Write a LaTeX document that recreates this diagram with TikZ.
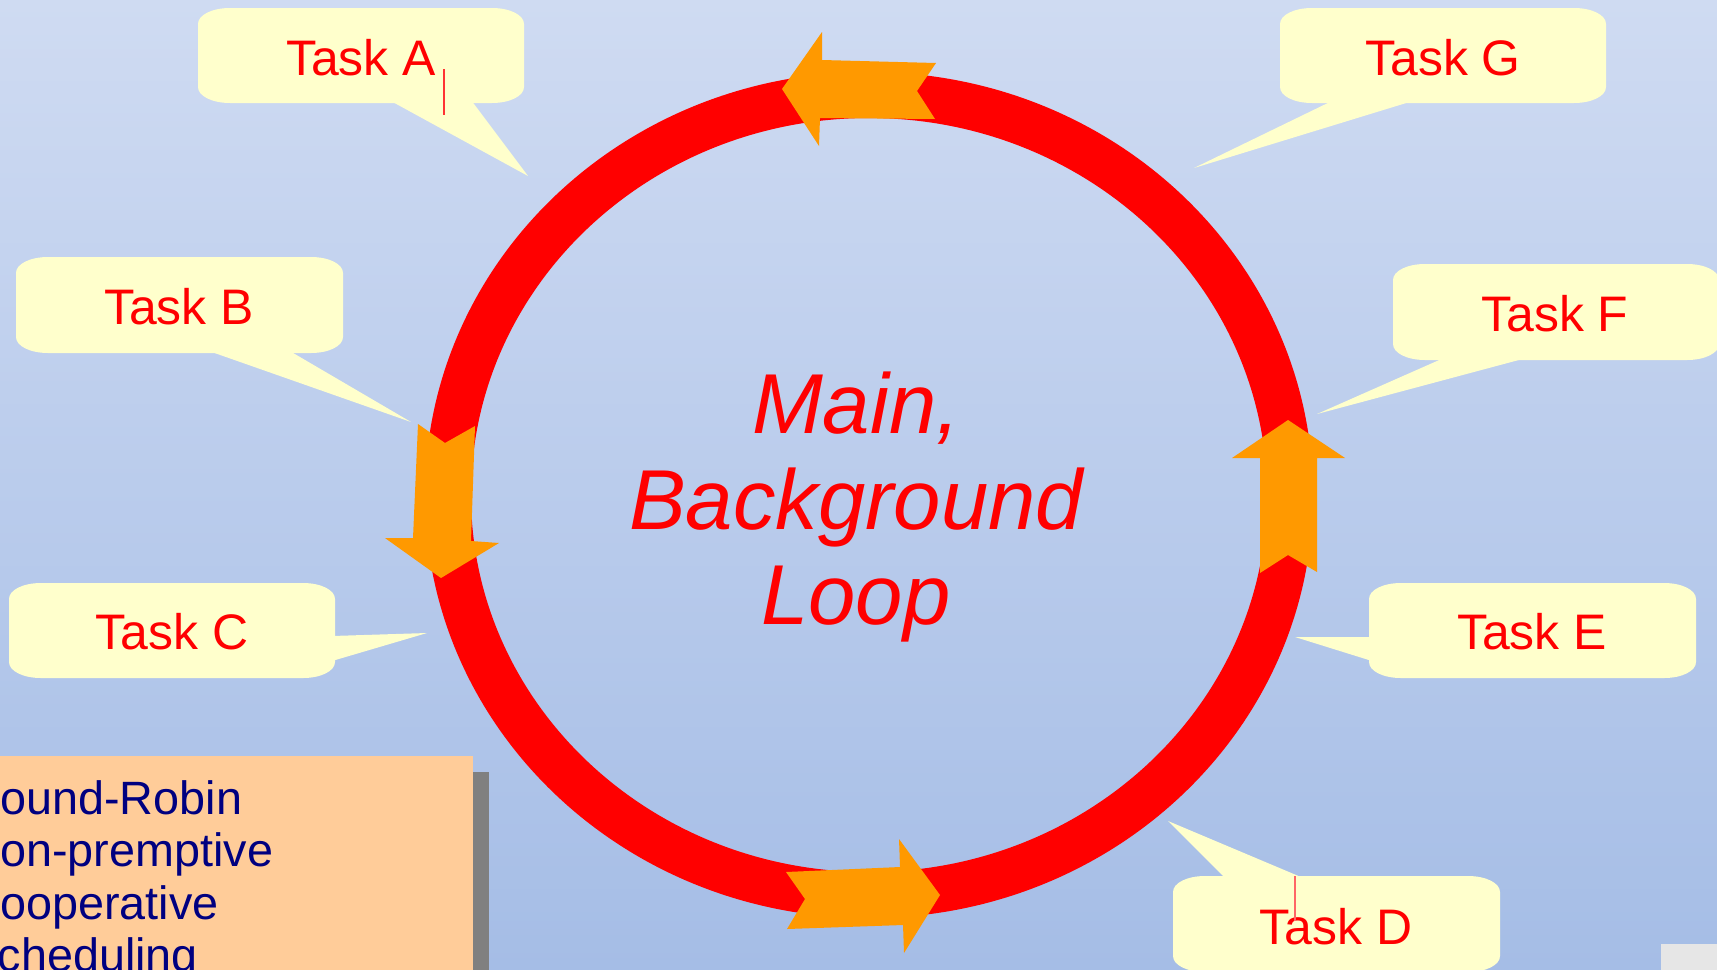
\documentclass[tikz,border=0pt]{standalone}
\usepackage{fontspec}
\setmainfont{Liberation Sans}
\usetikzlibrary{positioning}

\definecolor{skytop}{RGB}{207,219,242}
\definecolor{skybottom}{RGB}{165,189,230}
\definecolor{loopred}{RGB}{255,0,0}
\definecolor{turnorange}{RGB}{255,153,0}
\definecolor{notefill}{RGB}{255,255,204}
\definecolor{boxfill}{RGB}{255,204,153}
\definecolor{boxshadow}{RGB}{128,128,128}
\definecolor{navytext}{RGB}{0,0,128}
\definecolor{cornergrey}{RGB}{230,230,230}

\tikzset{
  tasklabel/.style={text=loopred, font=\fontsize{14.2}{17}\selectfont, inner sep=0pt},
  turn/.style={fill=turnorange},
  note/.style={fill=notefill},
}

% bubble body: left, top, right, bottom
\newcommand\bubble[4]{(#1,#2+16) .. controls (#1,#2+7) and (#1+14,#2) .. (#1+32,#2) -- (#3-32,#2) .. controls (#3-14,#2) and (#3,#2+7) .. (#3,#2+16) -- (#3,#4-16) .. controls (#3,#4-7) and (#3-14,#4) .. (#3-32,#4) -- (#1+32,#4) .. controls (#1+14,#4) and (#1,#4-7) .. (#1,#4-16) -- cycle}

\begin{document}
\begin{tikzpicture}[x=0.1mm, y=-0.1mm]
\useasboundingbox (0,0) rectangle (1717,969);
\clip (0,0) rectangle (1717,969);
\shade[top color=skytop, bottom color=skybottom] (0,0) rectangle (1717,969);

% the loop
\draw[loopred, line width=4.6mm] (869,495) ellipse [x radius=421, y radius=400];

% direction arrows on the loop
\fill[turn] (782,89) -- (822,32) -- (822,60) -- (936,63) -- (917,91) -- (935,119) -- (820,118) -- (819,146) -- cycle;
\fill[turn] (418,424) -- (445,443) -- (475,426) -- (471,541) -- (499,543) -- (441,578) -- (385,538) -- (413,538) -- cycle;
\fill[turn] (786,872) -- (900,867) -- (899,839) -- (940,895) -- (904,953) -- (903,925) -- (787,929) -- (805,899) -- cycle;
\fill[turn] (1288,420) -- (1345,458) -- (1317,458) -- (1317,572) -- (1288,555) -- (1260,573) -- (1260,458) -- (1232,458) -- cycle;

% callouts
\fill[note] \bubble{198}{8}{524}{103};
\fill[note] (389,100) -- (471,100) -- (528,176) -- cycle;
\fill[note] \bubble{16}{257}{343}{353};
\fill[note] (206,350) -- (288,350) -- (411,422) -- cycle;
\fill[note] \bubble{9}{583}{335}{678};
\fill[note] (332,636) -- (427,633) -- (332,661) -- cycle;
\fill[note] \bubble{1173}{876}{1500}{972};
\fill[note] (1227,880) -- (1168,821) -- (1308,880) -- cycle;
\fill[note] \bubble{1369}{583}{1696}{678};
\fill[note] (1372,637) -- (1295,637) -- (1372,661) -- cycle;
\fill[note] \bubble{1393}{264}{1719}{360};
\fill[note] (1446,357) -- (1317,414) -- (1530,357) -- cycle;
\fill[note] \bubble{1280}{8}{1606}{103};
\fill[note] (1334,100) -- (1194,168) -- (1416,100) -- cycle;

\node[tasklabel] (taskA) at (361,58) {Task A};
\node[tasklabel] (taskB) at (179,307) {Task B};
\node[tasklabel] (taskC) at (172,632) {Task C};
\node[tasklabel] (taskD) at (1336,927) {Task D};
\node[tasklabel] (taskE) at (1532,632) {Task E};
\node[tasklabel] (taskF) at (1555,314) {Task F};
\node[tasklabel] (taskG) at (1443,58) {Task G};

% text cursors
\draw[loopred!80, line width=0.12mm] (444,69) -- (444,115);
\draw[loopred!60, line width=0.12mm] (1295,876) -- (1295,921);

\node[text=loopred, font=\fontsize{24.2}{27.3}\selectfont\itshape, align=center] (main) at (856,507) {Main,\\Background\\Loop};

% scheduling box
\fill[boxshadow] (473,772) rectangle (489,980);
\fill[boxfill] (-10,756) rectangle (473,980);
\node[text=navytext, font=\fontsize{13.3}{14.9}\selectfont, align=left, anchor=north west, inner sep=0pt] (modes) at (-34,780) {Round-Robin\\Non-premptive\\Cooperative\\Scheduling};

\fill[cornergrey] (1661,944) rectangle (1717,975);
\end{tikzpicture}
\end{document}
